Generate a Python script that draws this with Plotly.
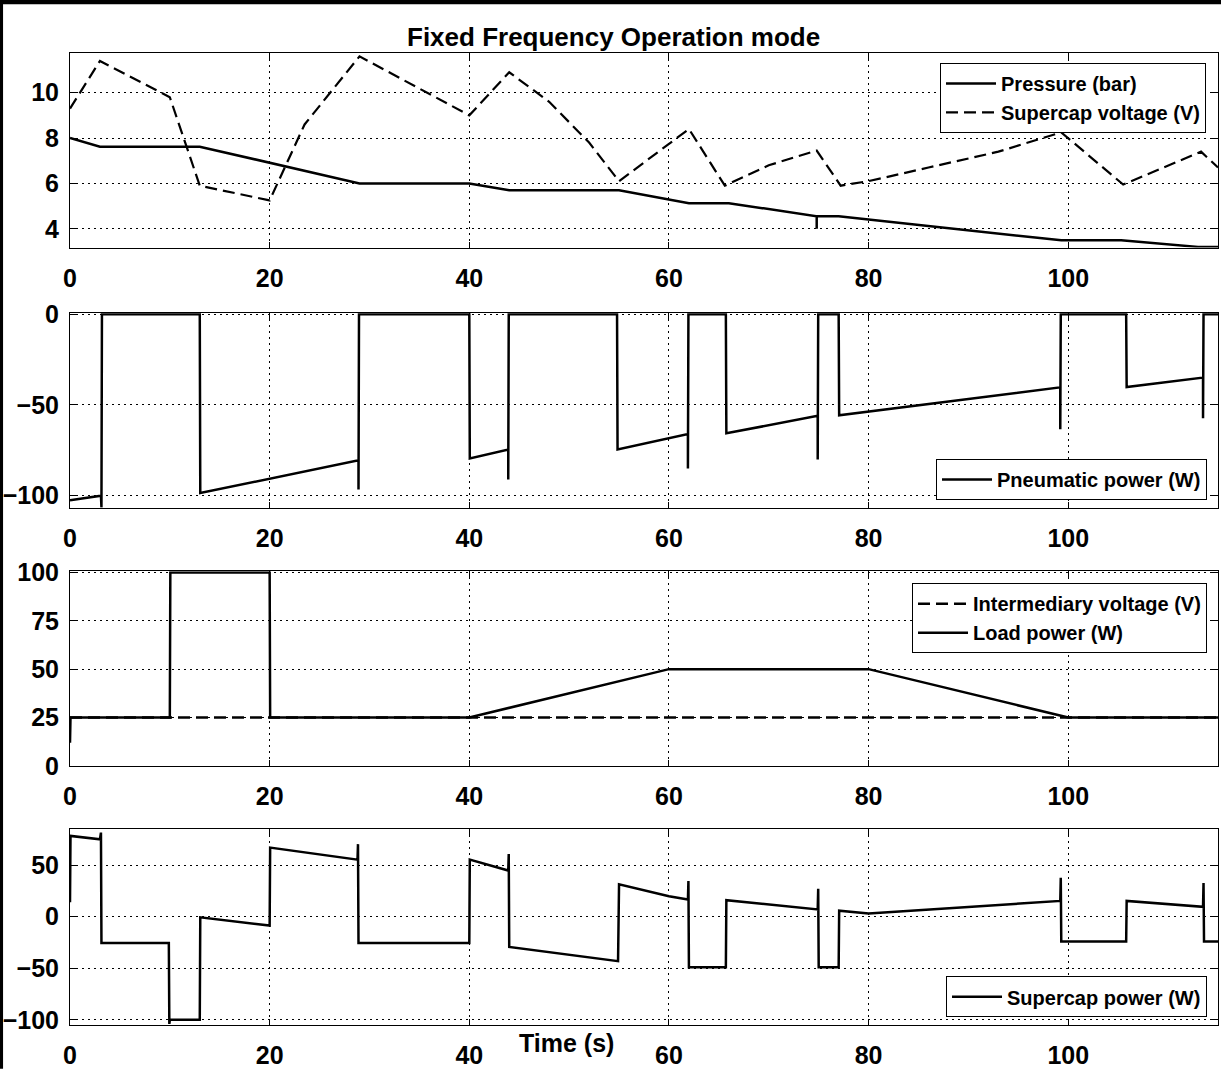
import plotly.graph_objects as go

# ---------------- data ----------------
# Panel 1: pressure (bar) and supercap voltage (V)
pressure_t = [0, 3, 13, 29, 40, 44, 55, 62, 66, 74.8, 74.8, 74.8, 77, 99.3, 105.3, 113, 115]
pressure_v = [8.0, 7.62, 7.62, 6.0, 6.0, 5.7, 5.7, 5.13, 5.13, 4.55, 4.0, 4.55, 4.55, 3.49, 3.49, 3.2, 3.2]

supv_t = [0, 3, 10, 13, 20, 23.5, 29, 40, 44, 48, 52, 55, 62, 65.6, 70, 74.8, 77.2, 80, 86, 93, 99.3, 105.5, 113.3, 115]
supv_v = [9.3, 11.4, 9.8, 5.9, 5.25, 8.6, 11.6, 9.0, 10.9, 9.6, 7.8, 6.1, 8.4, 5.9, 6.8, 7.45, 5.9, 6.1, 6.7, 7.4, 8.25, 5.95, 7.4, 6.7]

# Panel 2: pneumatic power (W)
pneu_t = [0, 3.1, 3.15, 3.2, 13, 13.05, 28.9, 28.9, 28.95, 40, 40.05, 43.9, 43.9, 43.95,
          54.8, 54.85, 61.9, 61.9, 61.95, 65.7, 65.75, 74.9, 74.9, 74.95,
          77, 77.05, 99.2, 99.2, 99.25, 105.8, 105.85, 113.5, 113.5, 113.55, 115]
pneu_v = [-102.5, -100, -106.5, 0, 0, -98.5, -80.5, -96.5, 0, 0, -79.5, -74.5, -91, 0,
          0, -74.5, -66, -85, 0, 0, -65.6, -56, -80, 0,
          0, -55.7, -40.3, -63.3, 0, 0, -40.1, -34.9, -57.3, 0, 0]

# Panel 3: intermediary voltage (V) and load power (W)
inter_t = [0, 115]
inter_v = [25, 25]
load_t = [0, 0.05, 10, 10.05, 20, 20.05, 40, 60, 80, 100, 115]
load_v = [12, 25, 25, 100, 100, 25, 25, 50, 50, 25, 25]

# Panel 4: supercap power (W)
scp_t = [0, 0.05, 3, 3.1, 3.15, 9.9, 9.95, 10, 13, 13.05, 20, 20.05, 28.8, 28.85, 28.9,
         40, 40.05, 43.9, 43.95, 44, 54.9, 55, 60, 61.9, 61.95, 62, 65.7, 65.75,
         74.9, 74.95, 75, 77, 77.05, 80, 99.2, 99.25, 99.3, 105.8, 105.85, 113.5, 113.55, 113.6, 115]
scp_v = [14, 78.3, 75, 81.5, -25.6, -25.6, -104, -100, -100, -0.6, -8.6, 67, 55.3, 70.3, -25.6,
         -25.6, 55.3, 44.7, 60.7, -29.4, -43.1, 31.3, 19.8, 16.6, 34.5, -48.9, -48.9, 16,
         7, 27, -48.9, -48.9, 5.8, 3.2, 15.3, 37.7, -24, -24, 15.3, 9.6, 32.6, -24, -24]

x_ticks = [0, 20, 40, 60, 80, 100]
y1_ticks = [4, 6, 8, 10]
y2_ticks = [-100, -50, 0]
y3_ticks = [0, 25, 50, 75, 100]
y4_ticks = [-100, -50, 0, 50]

title_text = "Fixed Frequency Operation mode"
xlabel_text = "Time (s)"

# ---------------- layout geometry ----------------
W, H = 1221, 1071
ML, MR, MT, MB = 70, 2, 53, 39
PW, PH = W - ML - MR, H - MT - MB


def py(px):
    return (H - MB - px) / PH


def pxx(px):
    return (px - ML) / PW


FONT = "Liberation Sans, Arial, sans-serif"
BLACK = "black"

fig = go.Figure()

fig.add_trace(go.Scatter(x=pressure_t, y=pressure_v, mode="lines", name="Pressure (bar)",
                         line=dict(color=BLACK, width=2.5), xaxis="x", yaxis="y", legend="legend"))
fig.add_trace(go.Scatter(x=supv_t, y=supv_v, mode="lines", name="Supercap voltage (V)",
                         line=dict(color=BLACK, width=2.2, dash="12px,6px"), xaxis="x", yaxis="y", legend="legend"))
fig.add_trace(go.Scatter(x=pneu_t, y=pneu_v, mode="lines", name="Pneumatic power (W)",
                         line=dict(color=BLACK, width=2.5), xaxis="x2", yaxis="y2", legend="legend2"))
fig.add_trace(go.Scatter(x=inter_t, y=inter_v, mode="lines", name="Intermediary voltage (V)",
                         line=dict(color=BLACK, width=2.5, dash="12px,6px"), xaxis="x3", yaxis="y3", legend="legend3"))
fig.add_trace(go.Scatter(x=load_t, y=load_v, mode="lines", name="Load power (W)",
                         line=dict(color=BLACK, width=2.5), xaxis="x3", yaxis="y3", legend="legend3"))
fig.add_trace(go.Scatter(x=scp_t, y=scp_v, mode="lines", name="Supercap power (W)",
                         line=dict(color=BLACK, width=2.5), xaxis="x4", yaxis="y4", legend="legend4"))

tickfont = dict(family=FONT, size=25, color=BLACK, weight="bold")
common_ax = dict(showline=True, linecolor=BLACK, linewidth=1, mirror="ticks", ticks="inside",
                 ticklen=6, tickcolor=BLACK, showgrid=True, gridcolor=BLACK, gridwidth=1,
                 griddash="2px,4px", zeroline=False, tickfont=tickfont)

domains = [(py(249), py(53)), (py(511), py(315)), (py(771), py(575)), (py(1032), py(835))]
yranges = [[3.17, 11.75], [-106.6, 0.6], [0, 100.6], [-105, 84.6]]
yticks = [y1_ticks, y2_ticks, y3_ticks, y4_ticks]

for i in range(4):
    xa = "xaxis" if i == 0 else f"xaxis{i+1}"
    ya = "yaxis" if i == 0 else f"yaxis{i+1}"
    yname = "y" if i == 0 else f"y{i+1}"
    xname = "x" if i == 0 else f"x{i+1}"
    fig.update_layout({
        xa: dict(common_ax, domain=[0, 1], range=[0, 115], tickvals=x_ticks,
                 anchor=yname, ticklabelstandoff=8),
        ya: dict(common_ax, domain=list(domains[i]), range=yranges[i], tickvals=yticks[i],
                 anchor=xname, ticklabelstandoff=5),
    })

legfont = dict(family=FONT, size=20, color=BLACK, weight="bold")
leg_common = dict(bgcolor="white", bordercolor=BLACK, borderwidth=1, font=legfont,
                  xanchor="right", yanchor="top", itemwidth=50, tracegroupgap=0)
fig.update_layout(
    legend=dict(leg_common, x=pxx(1207), y=py(63)),
    legend2=dict(leg_common, x=pxx(1208), y=py(462)),
    legend3=dict(leg_common, x=pxx(1208), y=py(587)),
    legend4=dict(leg_common, x=pxx(1208), y=py(983)),
)

fig.add_annotation(text=title_text, xref="paper", yref="paper", x=pxx(614), y=py(37),
                   xanchor="center", yanchor="middle", showarrow=False,
                   font=dict(family=FONT, size=26, color=BLACK, weight="bold"))
fig.add_annotation(text=xlabel_text, xref="paper", yref="paper", x=pxx(567), y=py(1050),
                   xanchor="center", yanchor="middle", showarrow=False,
                   font=dict(family=FONT, size=25, color=BLACK, weight="bold"))

# black frame of the scanned picture (top and left)
fig.add_shape(type="rect", xref="paper", yref="paper", x0=pxx(-5), x1=pxx(W + 5), y0=py(4), y1=py(-5),
              fillcolor=BLACK, line=dict(width=0), layer="above")
fig.add_shape(type="rect", xref="paper", yref="paper", x0=pxx(-5), x1=pxx(3), y0=py(H + 5), y1=py(-5),
              fillcolor=BLACK, line=dict(width=0), layer="above")

fig.update_layout(width=W, height=H, margin=dict(l=ML, r=MR, t=MT, b=MB),
                  paper_bgcolor="white", plot_bgcolor="white", showlegend=True)

fig.write_html("out.html", config={"displayModeBar": False},
               post_script="document.body.style.margin='0';")
